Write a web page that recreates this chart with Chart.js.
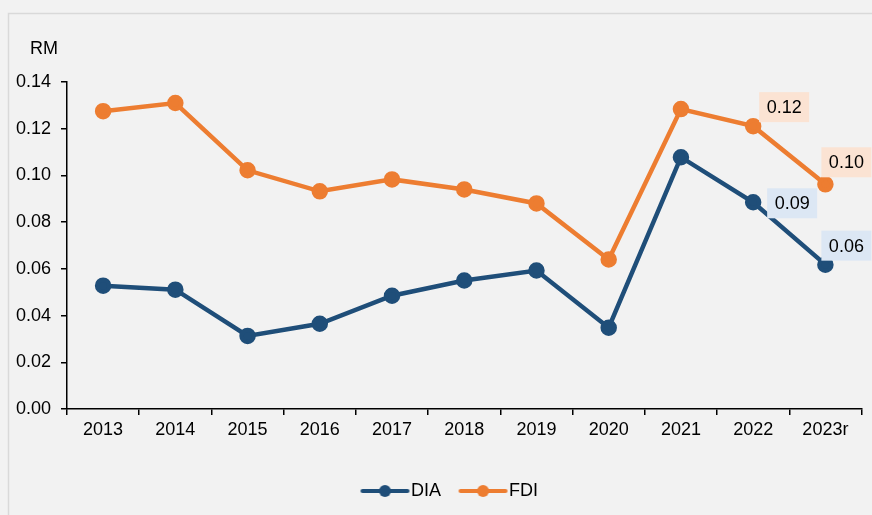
<!DOCTYPE html>
<html>
<head>
<meta charset="utf-8">
<script src="https://cdn.jsdelivr.net/npm/chart.js@4"></script>
<style>
  html, body { margin: 0; padding: 0; background: #f2f2f2; }
  #wrap { width: 872px; height: 515px; position: relative; }
</style>
</head>
<body>
<div id="wrap"><canvas id="chart"></canvas></div>
<script>
const years = ['2013', '2014', '2015', '2016', '2017', '2018', '2019', '2020', '2021', '2022', '2023r'];
const diaValues = [0.0528, 0.0511, 0.0313, 0.0365, 0.0485, 0.0550, 0.0593, 0.0348, 0.1078, 0.0885, 0.0618];
const fdiValues = [0.1275, 0.1310, 0.1022, 0.0932, 0.0983, 0.0940, 0.0880, 0.0640, 0.1284, 0.1211, 0.0962];
const yTicks = [0, 0.02, 0.04, 0.06, 0.08, 0.10, 0.12, 0.14];

const DIA_COLOR = '#1f4e79';
const FDI_COLOR = '#ed7d31';
const FONT = '"Liberation Sans", Arial, sans-serif';

// legend marker: line with a dot, shifted right so it sits close to the text
function legendMarker(color) {
  const c = document.createElement('canvas');
  c.width = 72; c.height = 14;
  const g = c.getContext('2d');
  g.strokeStyle = color;
  g.lineWidth = 4;
  g.lineCap = 'round';
  g.beginPath(); g.moveTo(20, 7); g.lineTo(65, 7); g.stroke();
  g.fillStyle = color;
  g.beginPath(); g.arc(42.5, 7, 6, 0, Math.PI * 2); g.fill();
  return c;
}

// frame + "RM" label
const framePlugin = {
  id: 'frame',
  afterLayout(chart) {
    // legend in the original sits a bit right of the page centre
    chart.legend.left += 31;
  },
  beforeDraw(chart) {
    const ctx = chart.ctx;
    ctx.save();
    ctx.fillStyle = '#f2f2f2';
    ctx.fillRect(0, 0, chart.width, chart.height);
    ctx.strokeStyle = '#d9d9d9';
    ctx.lineWidth = 1.5;
    ctx.beginPath();
    ctx.moveTo(8.5, chart.height);
    ctx.lineTo(8.5, 13.5);
    ctx.lineTo(chart.width, 13.5);
    ctx.stroke();
    ctx.fillStyle = '#000';
    ctx.font = '18px ' + FONT;
    ctx.textAlign = 'center';
    ctx.textBaseline = 'middle';
    ctx.fillText('RM', 44, 49);
    ctx.restore();
  }
};

// boxed value labels on the last two points
const labelPlugin = {
  id: 'boxLabels',
  afterDatasetsDraw(chart, args, opts) {
    const ctx = chart.ctx;
    ctx.save();
    ctx.font = '18px ' + FONT;
    ctx.textAlign = 'center';
    ctx.textBaseline = 'middle';
    opts.items.forEach(it => {
      const meta = chart.getDatasetMeta(it.ds);
      const pt = meta.data[it.i];
      const val = chart.data.datasets[it.ds].data[it.i];
      const cx = pt.x + it.dx, cy = pt.y + it.dy;
      ctx.fillStyle = it.bg;
      ctx.fillRect(cx - 25, cy - 15, 50, 30);
      ctx.fillStyle = '#000';
      ctx.fillText(val.toFixed(2), cx, cy + 1);
    });
    ctx.restore();
  }
};

new Chart(document.getElementById('chart'), {
  type: 'line',
  data: {
    labels: years,
    datasets: [
      {
        label: 'DIA',
        data: diaValues,
        borderColor: DIA_COLOR,
        backgroundColor: DIA_COLOR,
        borderWidth: 4.5,
        pointRadius: 6,
        pointHoverRadius: 6,
        tension: 0
      },
      {
        label: 'FDI',
        data: fdiValues,
        borderColor: FDI_COLOR,
        backgroundColor: FDI_COLOR,
        borderWidth: 4.5,
        pointRadius: 6,
        pointHoverRadius: 6,
        tension: 0
      }
    ]
  },
  options: {
    responsive: true,
    maintainAspectRatio: false,
    animation: false,
    layout: { padding: { left: 0, right: 10, top: 82, bottom: 5 } },
    scales: {
      x: {
        offset: true,
        grid: { offset: true, drawOnChartArea: false, color: '#000', tickLength: 6, lineWidth: 1.5 },
        border: { color: '#000', width: 1.5 },
        ticks: { color: '#000', font: { size: 18, family: FONT }, padding: 4 },
        afterFit(s) { s.height = 61; }
      },
      y: {
        min: 0,
        max: 0.14,
        afterBuildTicks(s) { s.ticks = yTicks.map(v => ({ value: v })); },
        grid: { drawOnChartArea: false, color: '#000', tickLength: 6, lineWidth: 1.5 },
        border: { color: '#000', width: 1.5 },
        ticks: {
          color: '#000',
          font: { size: 18, family: FONT },
          padding: 10,
          callback: v => v.toFixed(2)
        },
        afterFit(s) { s.width = 67; }
      }
    },
    plugins: {
      tooltip: { enabled: false },
      legend: {
        position: 'bottom',
        labels: {
          color: '#000',
          font: { size: 18, family: FONT },
          usePointStyle: true,
          pointStyleWidth: 47,
          boxHeight: 14,
          padding: 12,
          generateLabels(chart) {
            return chart.data.datasets.map((d, i) => ({
              text: d.label,
              pointStyle: legendMarker(d.borderColor),
              fillStyle: d.borderColor,
              strokeStyle: d.borderColor,
              lineWidth: 0,
              hidden: false,
              datasetIndex: i,
              fontColor: '#000'
            }));
          }
        }
      },
      boxLabels: {
        items: [
          { ds: 1, i: 9, dx: 31, dy: -19, bg: '#fbe3d3' },
          { ds: 1, i: 10, dx: 21, dy: -22, bg: '#fbe3d3' },
          { ds: 0, i: 9, dx: 39, dy: 1, bg: '#dce7f4' },
          { ds: 0, i: 10, dx: 21, dy: -19, bg: '#dce7f4' }
        ]
      }
    }
  },
  plugins: [framePlugin, labelPlugin]
});
</script>
</body>
</html>
